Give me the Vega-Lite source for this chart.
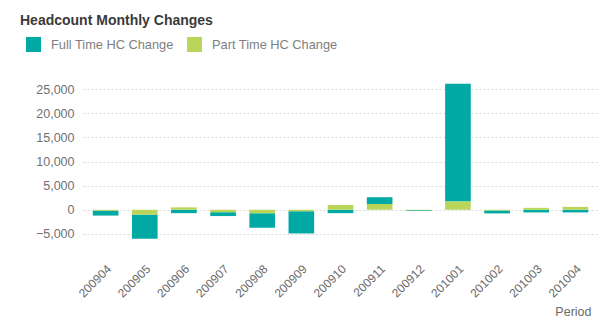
{
  "$schema": "https://vega.github.io/schema/vega-lite/v6.json",
  "autosize": {"type": "none"},
  "width": 515,
  "height": 169,
  "padding": {"left": 83, "top": 77, "right": 2, "bottom": 78},
  "background": "white",
  "title": {
    "text": "Headcount Monthly Changes",
    "anchor": "start",
    "frame": "group",
    "dx": -63,
    "dy": -5,
    "font": "Liberation Sans",
    "fontSize": 14,
    "fontWeight": "bold",
    "color": "#3a3a3a"
  },
  "data": {
    "values": [
      {"Period": "200904", "Series": "Full Time HC Change", "ord": 1, "HC": -1000},
      {"Period": "200904", "Series": "Part Time HC Change", "ord": 0, "HC": -200},
      {"Period": "200905", "Series": "Full Time HC Change", "ord": 1, "HC": -5000},
      {"Period": "200905", "Series": "Part Time HC Change", "ord": 0, "HC": -1000},
      {"Period": "200906", "Series": "Full Time HC Change", "ord": 1, "HC": -700},
      {"Period": "200906", "Series": "Part Time HC Change", "ord": 0, "HC": 500},
      {"Period": "200907", "Series": "Full Time HC Change", "ord": 1, "HC": -800},
      {"Period": "200907", "Series": "Part Time HC Change", "ord": 0, "HC": -500},
      {"Period": "200908", "Series": "Full Time HC Change", "ord": 1, "HC": -3000},
      {"Period": "200908", "Series": "Part Time HC Change", "ord": 0, "HC": -700},
      {"Period": "200909", "Series": "Full Time HC Change", "ord": 1, "HC": -4600},
      {"Period": "200909", "Series": "Part Time HC Change", "ord": 0, "HC": -300},
      {"Period": "200910", "Series": "Full Time HC Change", "ord": 1, "HC": -700},
      {"Period": "200910", "Series": "Part Time HC Change", "ord": 0, "HC": 1000},
      {"Period": "200911", "Series": "Full Time HC Change", "ord": 1, "HC": 1400},
      {"Period": "200911", "Series": "Part Time HC Change", "ord": 0, "HC": 1200},
      {"Period": "200912", "Series": "Full Time HC Change", "ord": 1, "HC": -150},
      {"Period": "200912", "Series": "Part Time HC Change", "ord": 0, "HC": -100},
      {"Period": "201001", "Series": "Full Time HC Change", "ord": 1, "HC": 24400},
      {"Period": "201001", "Series": "Part Time HC Change", "ord": 0, "HC": 1700},
      {"Period": "201002", "Series": "Full Time HC Change", "ord": 1, "HC": -600},
      {"Period": "201002", "Series": "Part Time HC Change", "ord": 0, "HC": -150},
      {"Period": "201003", "Series": "Full Time HC Change", "ord": 1, "HC": -550},
      {"Period": "201003", "Series": "Part Time HC Change", "ord": 0, "HC": 400},
      {"Period": "201004", "Series": "Full Time HC Change", "ord": 1, "HC": -550},
      {"Period": "201004", "Series": "Part Time HC Change", "ord": 0, "HC": 600}
    ]
  },
  "mark": {"type": "bar"},
  "encoding": {
    "x": {
      "field": "Period",
      "type": "nominal",
      "scale": {"paddingInner": 0.345, "paddingOuter": 0.25},
      "axis": {
        "labelAngle": -45,
        "labelFont": "Liberation Sans",
        "labelFontSize": 12,
        "labelColor": "#6a6a6a",
        "ticks": false,
        "domain": false,
        "labelPadding": 17,
        "title": "Period",
        "titleFont": "Liberation Sans",
        "titleFontSize": 12.5,
        "titleFontWeight": "normal",
        "titleColor": "#6a6a6a",
        "titleAnchor": "end",
        "titleAlign": "right",
        "titleX": 508,
        "titleY": 69,
        "titleBaseline": "alphabetic"
      }
    },
    "y": {
      "field": "HC",
      "type": "quantitative",
      "stack": "zero",
      "scale": {"domain": [-7500, 27500], "nice": false},
      "axis": {
        "values": [-5000, 0, 5000, 10000, 15000, 20000, 25000],
        "format": ",.0f",
        "title": null,
        "domain": false,
        "ticks": false,
        "labelFont": "Liberation Sans",
        "labelFontSize": 12.5,
        "labelColor": "#707070",
        "labelPadding": 9,
        "grid": true,
        "gridColor": "#d8d8d8",
        "gridDash": [2, 2],
        "gridWidth": 1
      }
    },
    "color": {
      "field": "Series",
      "type": "nominal",
      "scale": {
        "domain": ["Full Time HC Change", "Part Time HC Change"],
        "range": ["#00a9a4", "#b9d65a"]
      },
      "legend": {
        "title": null,
        "orient": "none",
        "legendX": -57,
        "legendY": -40,
        "direction": "horizontal",
        "symbolType": "square",
        "symbolSize": 225,
        "symbolStrokeWidth": 0,
        "symbolOpacity": 1,
        "labelFont": "Liberation Sans",
        "labelFontSize": 12.8,
        "labelColor": "#808080",
        "labelOffset": 10,
        "columnPadding": 13
      }
    },
    "order": {"field": "ord", "type": "quantitative"}
  },
  "config": {
    "view": {"stroke": null}
  }
}
